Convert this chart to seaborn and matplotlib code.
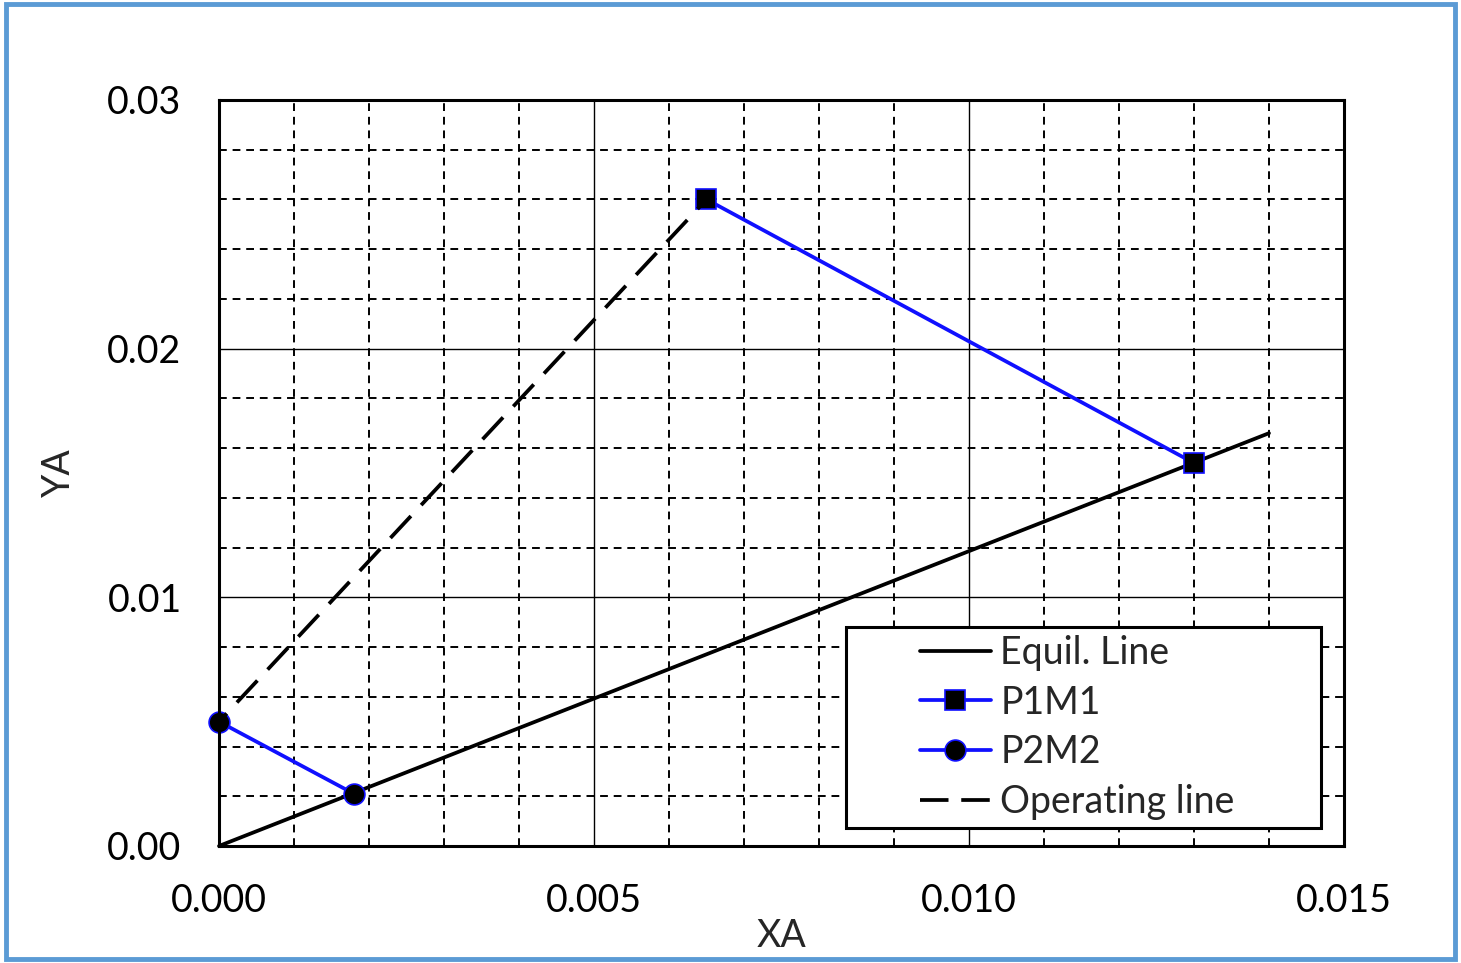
import matplotlib
matplotlib.use("Agg")
import matplotlib.pyplot as plt
import seaborn as sns
import pandas as pd
from matplotlib.patches import Rectangle
from matplotlib.ticker import MultipleLocator, FormatStrFormatter

# dados
equil_x = [0.0, 0.0140]
equil_y = [0.0, 0.0166]
p1m1_x = [0.0065, 0.0130]
p1m1_y = [0.0260, 0.0154]
p2m2_x = [0.0, 0.0018]
p2m2_y = [0.0050, 0.0021]
op_x = [0.0, 0.0065]
op_y = [0.0050, 0.0260]

x_ticks = [0.000, 0.005, 0.010, 0.015]
y_ticks = [0.00, 0.01, 0.02, 0.03]

sns.set_style("white")
plt.rcParams['font.family'] = ['Lato', 'DejaVu Sans']

fig = plt.figure(figsize=(14.61, 9.63), dpi=100)
ax = fig.add_axes([0.1499, 0.1215, 0.770, 0.7747])

# grade principal e secundária
ax.xaxis.set_minor_locator(MultipleLocator(0.001))
ax.yaxis.set_minor_locator(MultipleLocator(0.002))
ax.grid(which='major', color='black', linewidth=1.0, linestyle='-')
ax.grid(which='minor', color='black', linewidth=1.4, linestyle=(0, (4, 3)))
ax.set_axisbelow(True)

df_eq = pd.DataFrame({'x': equil_x, 'y': equil_y})
df_p1 = pd.DataFrame({'x': p1m1_x, 'y': p1m1_y})
df_p2 = pd.DataFrame({'x': p2m2_x, 'y': p2m2_y})
df_op = pd.DataFrame({'x': op_x, 'y': op_y})

lw = 2.7
azul = '#1010ff'
sns.lineplot(data=df_eq, x='x', y='y', sort=False, ax=ax, color='black',
             linewidth=lw, label='Equil. Line', clip_on=False)
sns.lineplot(data=df_p1, x='x', y='y', sort=False, ax=ax, color=azul,
             linewidth=lw, marker='s', markersize=14, markerfacecolor='black',
             markeredgecolor=azul, markeredgewidth=1.2, label='P1M1', clip_on=False)
sns.lineplot(data=df_p2, x='x', y='y', sort=False, ax=ax, color=azul,
             linewidth=lw, marker='o', markersize=15, markerfacecolor='black',
             markeredgecolor=azul, markeredgewidth=1.2, label='P2M2', clip_on=False)
ln = sns.lineplot(data=df_op, x='x', y='y', sort=False, ax=ax, color='black',
                  linewidth=lw, label='Operating line').lines[-1]
ln.set_linestyle((5, (8, 4)))

ax.set_xlim(0, 0.015)
ax.set_ylim(0, 0.03)
ax.set_xticks(x_ticks)
ax.set_yticks(y_ticks)
ax.xaxis.set_major_formatter(FormatStrFormatter('%.3f'))
ax.yaxis.set_major_formatter(FormatStrFormatter('%.2f'))
ax.tick_params(which='both', length=0, labelsize=27, colors='black')
ax.tick_params(axis='x', pad=27)
ax.tick_params(axis='y', pad=27)
ax.set_xlabel('XA', fontsize=27, labelpad=-1)
ax.set_ylabel('YA', fontsize=27, labelpad=22)

for s in ax.spines.values():
    s.set_color('black')
    s.set_linewidth(2.2)
    s.set_visible(True)

# moldura da legenda desenhada à parte, legenda sem moldura
ax.add_patch(Rectangle((0.557, 0.024), 0.423, 0.2696, transform=ax.transAxes,
                       facecolor='white', edgecolor='black', linewidth=2.2, zorder=5))
leg = ax.legend(loc='center left', bbox_to_anchor=(0.623, 0.1588), fontsize=27,
                frameon=False, handlelength=1.9, handletextpad=0.25,
                labelspacing=0.37, borderpad=0, borderaxespad=0)
leg.set_zorder(6)
# traço da legenda com dois segmentos como no original
leg.get_lines()[3].set_linestyle((0, (7.6, 3.4)))

# borda azul da figura
fig.patches.append(Rectangle((0.004, 0.004), 0.992, 0.992, transform=fig.transFigure,
                             fill=False, edgecolor='#5b9bd5', linewidth=3.5))

plt.savefig('out.png', dpi=100)
